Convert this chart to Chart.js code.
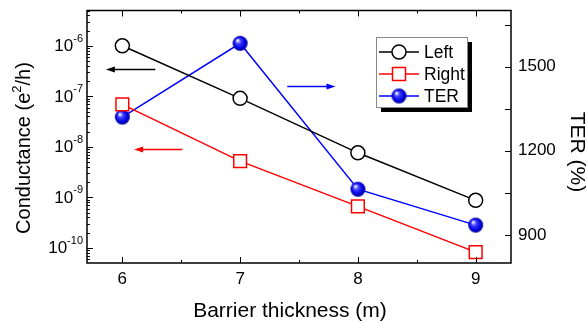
<!DOCTYPE html>
<html>
<head>
<meta charset="utf-8">
<script src="https://cdn.jsdelivr.net/npm/chart.js@4"></script>
<style>
  html, body { margin: 0; padding: 0; background: #fff; }
  #wrap { width: 587px; height: 322px; }
</style>
</head>
<body>
<div id="wrap"><canvas id="chart"></canvas></div>
<script>
const thickness = [6, 7, 8, 9];
const leftCond = [1.0e-6, 9.1e-8, 7.6e-9, 8.7e-10];
const rightCond = [6.9e-8, 5.2e-9, 6.6e-10, 8.2e-11];
const terValues = [1320, 1583, 1063, 935];

const xTicks = [6, 7, 8, 9];
const condExps = [-6, -7, -8, -9, -10];
const terTicks = [900, 1200, 1500];

// arrows point to the axis each curve belongs to: [x0, x1, y, axis, color]
const arrows = [
  [6.28, 5.86, 3.5e-7, "y", "#000"],
  [6.51, 6.10, 9.0e-9, "y", "#ff0000"],
  [7.40, 7.81, 1432, "y2", "#0000ff"],
];

const FONT = "Liberation Sans, Arial, sans-serif";

// glossy sphere marker for TER
function makeBall(r) {
  const c = document.createElement("canvas");
  c.width = c.height = r * 2 + 2;
  const g = c.getContext("2d");
  const cx = r + 1, cy = r + 1;
  const grad = g.createRadialGradient(cx - r * 0.35, cy - r * 0.4, r * 0.1, cx, cy, r);
  grad.addColorStop(0, "#e8e8ff");
  grad.addColorStop(0.3, "#3c3cff");
  grad.addColorStop(0.75, "#0000e0");
  grad.addColorStop(1, "#00008a");
  g.fillStyle = grad;
  g.beginPath();
  g.arc(cx, cy, r, 0, Math.PI * 2);
  g.fill();
  return c;
}
const ball = makeBall(7.5);

function drawMarker(ctx, kind, x, y) {
  ctx.save();
  if (kind === "circle") {
    ctx.fillStyle = "#fff";
    ctx.strokeStyle = "#000";
    ctx.lineWidth = 1.5;
    ctx.beginPath();
    ctx.arc(x, y, 7, 0, Math.PI * 2);
    ctx.fill();
    ctx.stroke();
  } else if (kind === "square") {
    ctx.fillStyle = "#fff";
    ctx.strokeStyle = "#ff0000";
    ctx.lineWidth = 1.5;
    ctx.fillRect(x - 6.5, y - 6.5, 13, 13);
    ctx.strokeRect(x - 6.5, y - 6.5, 13, 13);
  } else {
    ctx.drawImage(ball, x - ball.width / 2, y - ball.height / 2);
  }
  ctx.restore();
}

const decorations = {
  id: "decorations",
  afterDraw(chart) {
    const ctx = chart.ctx;
    const a = chart.chartArea;
    const xs = chart.scales.x, ys = chart.scales.y, y2 = chart.scales.y2;
    ctx.save();
    ctx.strokeStyle = "#000";
    ctx.fillStyle = "#000";
    ctx.lineWidth = 1.5;
    ctx.strokeRect(a.left, a.top, a.right - a.left, a.bottom - a.top);

    // x ticks (inward, bottom and top)
    ctx.lineWidth = 1;
    for (let v = 6; v <= 9.01; v += 0.5) {
      const px = Math.round(xs.getPixelForValue(v)) + 0.5;
      const len = Number.isInteger(v) ? 6 : 3;
      ctx.beginPath();
      ctx.moveTo(px, a.bottom); ctx.lineTo(px, a.bottom - len);
      ctx.moveTo(px, a.top); ctx.lineTo(px, a.top + len);
      ctx.stroke();
    }
    ctx.font = "17px " + FONT;
    ctx.textAlign = "center";
    ctx.textBaseline = "middle";
    xTicks.forEach(v => ctx.fillText(String(v), xs.getPixelForValue(v), a.bottom + 16));

    // left log ticks
    for (let e = -11; e <= -6; e++) {
      for (let m = 1; m <= 9; m++) {
        const v = m * Math.pow(10, e);
        if (v < ys.min || v > ys.max) continue;
        const py = Math.round(ys.getPixelForValue(v)) + 0.5;
        const len = m === 1 ? 6 : 3;
        ctx.beginPath();
        ctx.moveTo(a.left, py); ctx.lineTo(a.left + len, py);
        ctx.stroke();
      }
    }
    condExps.forEach(e => {
      const py = ys.getPixelForValue(Math.pow(10, e));
      const sup = String(e);
      ctx.font = "11px " + FONT;
      const wSup = ctx.measureText(sup).width;
      ctx.textAlign = "left";
      ctx.textBaseline = "middle";
      const right = a.left - 4;
      ctx.fillText(sup, right - wSup, py - 7);
      ctx.font = "17px " + FONT;
      ctx.textAlign = "right";
      ctx.fillText("10", right - wSup, py + 1);
    });

    // right ticks
    for (let v = 900; v <= 1650; v += 150) {
      const py = Math.round(y2.getPixelForValue(v)) + 0.5;
      ctx.beginPath();
      ctx.moveTo(a.right, py); ctx.lineTo(a.right - 6, py);
      ctx.stroke();
    }
    ctx.font = "17px " + FONT;
    ctx.textAlign = "left";
    terTicks.forEach(v => ctx.fillText(String(v), a.right + 7, y2.getPixelForValue(v)));

    // axis titles
    ctx.font = "21px " + FONT;
    ctx.textAlign = "center";
    ctx.fillText("Barrier thickness (m)", 290, 311);
    ctx.save();
    ctx.translate(24, 148);
    ctx.rotate(-Math.PI / 2);
    ctx.font = "20px " + FONT;
    const t1 = "Conductance (e", t2 = "/h)";
    const w1 = ctx.measureText(t1).width, w2 = ctx.measureText(t2).width;
    ctx.font = "13px " + FONT;
    const wS = ctx.measureText("2").width;
    const start = -(w1 + wS + w2) / 2;
    ctx.textAlign = "left";
    ctx.font = "20px " + FONT;
    ctx.fillText(t1, start, 0);
    ctx.font = "13px " + FONT;
    ctx.fillText("2", start + w1, -7);
    ctx.font = "20px " + FONT;
    ctx.fillText(t2, start + w1 + wS, 0);
    ctx.restore();
    ctx.save();
    ctx.translate(577, 152);
    ctx.rotate(Math.PI / 2);
    ctx.font = "21px " + FONT;
    ctx.textAlign = "center";
    ctx.fillText("TER (%)", 0, 0);
    ctx.restore();

    // arrows
    arrows.forEach(([x0, x1, yv, axis, col]) => {
      const sc = chart.scales[axis];
      const px0 = xs.getPixelForValue(x0), px1 = xs.getPixelForValue(x1);
      const py = Math.round(sc.getPixelForValue(yv)) + 0.5;
      const dir = Math.sign(px1 - px0);
      ctx.strokeStyle = col; ctx.fillStyle = col; ctx.lineWidth = 1.5;
      ctx.beginPath();
      ctx.moveTo(px0, py); ctx.lineTo(px1 - dir * 6, py);
      ctx.stroke();
      ctx.beginPath();
      ctx.moveTo(px1, py);
      ctx.lineTo(px1 - dir * 9, py - 3);
      ctx.lineTo(px1 - dir * 9, py + 3);
      ctx.closePath();
      ctx.fill();
    });

    // legend
    const lx = 376, ly = 37, lw = 91, lh = 70;
    ctx.fillStyle = "#000";
    ctx.fillRect(lx + 5, ly + 5, lw, lh);
    ctx.fillStyle = "#fff";
    ctx.fillRect(lx, ly, lw, lh);
    ctx.strokeStyle = "#888";
    ctx.lineWidth = 1;
    ctx.strokeRect(lx + 0.5, ly + 0.5, lw, lh);
    const items = [["Left", "#000", "circle"], ["Right", "#ff0000", "square"], ["TER", "#0000ff", "ball"]];
    items.forEach(([name, col, kind], i) => {
      const yy = 52 + i * 22;
      ctx.strokeStyle = col; ctx.lineWidth = 1.5;
      ctx.beginPath();
      ctx.moveTo(379, yy); ctx.lineTo(419, yy);
      ctx.stroke();
      drawMarker(ctx, kind, 399, yy);
      ctx.fillStyle = "#000";
      ctx.font = "17.5px " + FONT;
      ctx.textAlign = "left";
      ctx.textBaseline = "middle";
      ctx.fillText(name, 424, yy + 1);
    });
    ctx.restore();
  }
};

new Chart(document.getElementById("chart"), {
  type: "line",
  data: {
    datasets: [
      {
        label: "Left",
        data: thickness.map((x, i) => ({ x, y: leftCond[i] })),
        yAxisID: "y",
        borderColor: "#000",
        borderWidth: 1.5,
        pointStyle: "circle",
        pointRadius: 7,
        pointBorderWidth: 1.5,
        pointBackgroundColor: "#fff",
        pointBorderColor: "#000",
      },
      {
        label: "Right",
        data: thickness.map((x, i) => ({ x, y: rightCond[i] })),
        yAxisID: "y",
        borderColor: "#ff0000",
        borderWidth: 1.5,
        pointStyle: "rect",
        pointRadius: 9,
        pointBorderWidth: 1.5,
        pointBackgroundColor: "#fff",
        pointBorderColor: "#ff0000",
      },
      {
        label: "TER",
        data: thickness.map((x, i) => ({ x, y: terValues[i] })),
        yAxisID: "y2",
        borderColor: "#0000ff",
        borderWidth: 1.5,
        pointStyle: ball,
        pointRadius: 8,
      },
    ],
  },
  options: {
    responsive: true,
    maintainAspectRatio: false,
    animation: false,
    layout: { padding: { left: 87, right: 76, top: 10, bottom: 59 } },
    plugins: { legend: { display: false }, tooltip: { enabled: false } },
    scales: {
      x: { type: "linear", min: 5.7, max: 9.3, display: false },
      y: { type: "logarithmic", min: 5e-11, max: 5e-6, display: false },
      y2: { type: "linear", min: 800, max: 1700, display: false },
    },
  },
  plugins: [decorations],
});
</script>
</body>
</html>
